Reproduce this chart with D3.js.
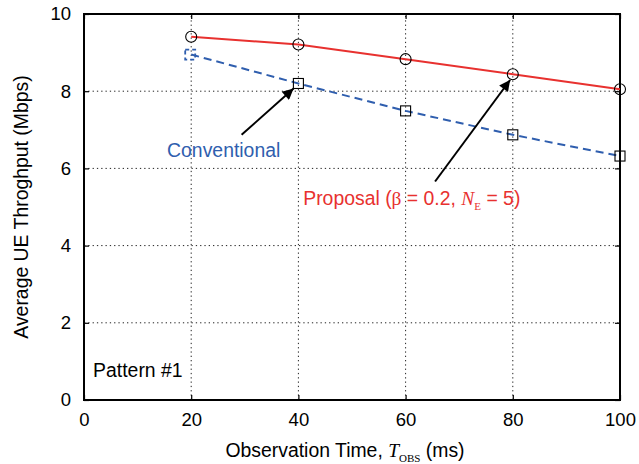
<!DOCTYPE html>
<html>
<head>
<meta charset="utf-8">
<script src="https://cdn.jsdelivr.net/npm/d3@7"></script>
<style>
  html, body { margin: 0; padding: 0; background: #fff; }
  svg text { font-family: "Liberation Sans", Arial, Helvetica, sans-serif; }
</style>
</head>
<body>
<svg id="chart" width="639" height="464"></svg>
<script>
// Observation time (ms) and average UE throughput (Mbps)
const obsTime = [20, 40, 60, 80, 100];
const proposal = [9.41, 9.21, 8.83, 8.44, 8.05];
const conventional = [8.95, 8.20, 7.49, 6.87, 6.32];
const xTicks = [0, 20, 40, 60, 80, 100];
const yTicks = [0, 2, 4, 6, 8, 10];

const W = 639, H = 464;
const margin = { top: 14, right: 19, bottom: 64, left: 84 };
const svg = d3.select("#chart");
const pw = W - margin.left - margin.right;
const ph = H - margin.top - margin.bottom;

const x = d3.scaleLinear().domain([0, 100]).range([margin.left, margin.left + pw]);
const y = d3.scaleLinear().domain([0, 10]).range([margin.top + ph, margin.top]);

const red = "#e8312f";
const blue = "#2f5eae";
const serif = "Liberation Serif, Times New Roman, serif";
const labelSize = 19.4;

// dotted grid
const grid = svg.append("g").attr("stroke", "#222").attr("stroke-width", 1)
  .attr("stroke-dasharray", "1.3,3");
grid.selectAll("line.gx").data(xTicks.slice(1, -1)).join("line")
  .attr("x1", d => x(d)).attr("x2", d => x(d))
  .attr("y1", y(0)).attr("y2", y(10));
grid.selectAll("line.gy").data(yTicks.slice(1, -1)).join("line")
  .attr("y1", d => y(d)).attr("y2", d => y(d))
  .attr("x1", x(0)).attr("x2", x(100));

// axes with inward ticks on all four sides
const tickFont = g => g.selectAll("text").attr("font-size", 18.5).attr("fill", "#000")
  .attr("font-family", "Liberation Sans, Arial, sans-serif");
const axisStyle = g => { g.select(".domain").remove(); g.selectAll("line").attr("stroke", "#000").attr("stroke-width", 1.2); };

svg.append("g").attr("transform", `translate(0,${y(0)})`)
  .call(d3.axisBottom(x).tickValues(xTicks).tickSize(-5).tickPadding(13).tickFormat(d3.format("d")))
  .call(axisStyle).call(tickFont);
svg.append("g").attr("transform", `translate(0,${y(10)})`)
  .call(d3.axisTop(x).tickValues(xTicks).tickSize(-5).tickFormat(""))
  .call(axisStyle);
svg.append("g").attr("transform", `translate(${x(0)},0)`)
  .call(d3.axisLeft(y).tickValues(yTicks).tickSize(-5).tickPadding(13).tickFormat(d3.format("d")))
  .call(axisStyle).call(tickFont);
svg.append("g").attr("transform", `translate(${x(100)},0)`)
  .call(d3.axisRight(y).tickValues(yTicks).tickSize(-5).tickFormat(""))
  .call(axisStyle);

// frame
svg.append("rect").attr("x", x(0)).attr("y", y(10))
  .attr("width", x(100) - x(0)).attr("height", y(0) - y(10))
  .attr("fill", "none").attr("stroke", "#000").attr("stroke-width", 2);

// series lines
const line = d3.line().x((d, i) => x(obsTime[i])).y(d => y(d));
svg.append("path").datum(conventional).attr("d", line)
  .attr("fill", "none").attr("stroke", blue).attr("stroke-width", 2)
  .attr("stroke-dasharray", "8,5");
svg.append("path").datum(proposal).attr("d", line)
  .attr("fill", "none").attr("stroke", red).attr("stroke-width", 2);

// markers
svg.append("g").selectAll("circle").data(proposal).join("circle")
  .attr("cx", (d, i) => x(obsTime[i])).attr("cy", d => y(d)).attr("r", 5.5)
  .attr("fill", "none").attr("stroke", "#000").attr("stroke-width", 1.1);
const sq = 10;
svg.append("g").selectAll("rect").data(conventional).join("rect")
  .attr("x", (d, i) => x(obsTime[i]) - sq / 2 - (i === 0 ? 1 : 0))
  .attr("y", d => y(d) - sq / 2)
  .attr("width", sq).attr("height", sq)
  .attr("fill", "none")
  .attr("stroke", (d, i) => i === 0 ? blue : "#000")
  .attr("stroke-width", (d, i) => i === 0 ? 1.8 : 1.1)
  .attr("stroke-dasharray", (d, i) => i === 0 ? "4,3" : null);

// annotation arrows
const arrows = [
  { from: [29.4, 6.87], to: [39.1, 8.07] },
  { from: [65.5, 5.66], to: [79.5, 8.29] }
];
svg.append("defs").append("marker")
  .attr("id", "head").attr("viewBox", "0 0 10 10")
  .attr("refX", 10).attr("refY", 5)
  .attr("markerWidth", 7.5).attr("markerHeight", 5.5)
  .attr("markerUnits", "strokeWidth").attr("orient", "auto")
  .append("path").attr("d", "M0,0 L10,5 L0,10 Z").attr("fill", "#000");
svg.append("g").selectAll("line").data(arrows).join("line")
  .attr("x1", d => x(d.from[0])).attr("y1", d => y(d.from[1]))
  .attr("x2", d => x(d.to[0])).attr("y2", d => y(d.to[1]))
  .attr("stroke", "#000").attr("stroke-width", 2)
  .attr("marker-end", "url(#head)");

// series labels
svg.append("text").attr("x", x(15.5)).attr("y", y(6.30))
  .attr("font-size", labelSize).attr("fill", blue).text("Conventional");

const prop = svg.append("text").attr("x", x(40.9)).attr("y", y(5.05))
  .attr("font-size", labelSize).attr("fill", red);
prop.append("tspan").text("Proposal (");
prop.append("tspan").attr("font-family", serif).text("β");
prop.append("tspan").text(" = 0.2, ");
prop.append("tspan").attr("font-family", serif).attr("font-style", "italic").text("N");
prop.append("tspan").attr("font-family", serif).attr("font-size", 11).attr("dy", 5).text("E");
prop.append("tspan").attr("dy", -5).text(" = 5)");

svg.append("text").attr("x", x(1.7)).attr("y", y(0.6))
  .attr("font-size", labelSize).attr("fill", "#000").text("Pattern #1");

// axis titles
const xt = svg.append("text").attr("x", (x(0) + x(100)) / 2 - 7).attr("y", 457)
  .attr("text-anchor", "middle").attr("font-size", labelSize).attr("fill", "#000");
xt.append("tspan").text("Observation Time, ");
xt.append("tspan").attr("font-family", serif).attr("font-style", "italic").text("T");
xt.append("tspan").attr("font-family", serif).attr("font-size", 11).attr("dy", 5).text("OBS");
xt.append("tspan").attr("dy", -5).text(" (ms)");

svg.append("text")
  .attr("transform", `translate(28,${(y(0) + y(10)) / 2}) rotate(-90)`)
  .attr("text-anchor", "middle").attr("font-size", labelSize).attr("fill", "#000")
  .text("Average UE Throghput (Mbps)");
</script>
</body>
</html>
